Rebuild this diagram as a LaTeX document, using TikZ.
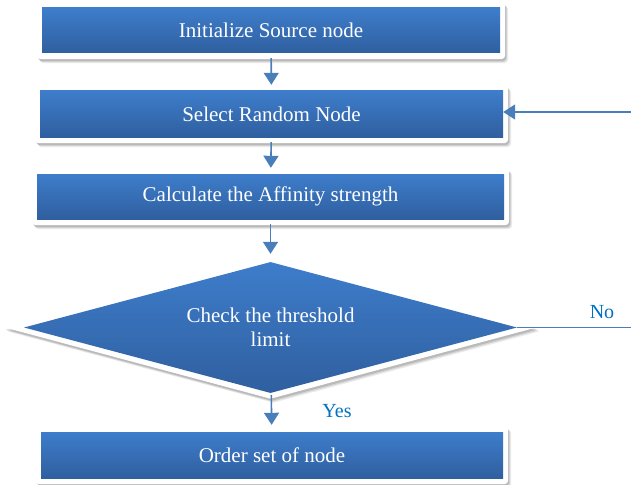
\documentclass[tikz,border=0pt]{standalone}
\usepackage{fontspec}
\setmainfont{Liberation Serif}
\usetikzlibrary{shapes.geometric,arrows.meta,shadows,backgrounds,calc}
\definecolor{btop}{HTML}{3E7DCB}
\definecolor{bbot}{HTML}{2F5F9F}
\definecolor{arr}{HTML}{4A7EBB}
\definecolor{lbl}{HTML}{0070C0}
\begin{document}
\begin{tikzpicture}[x=1pt,y=-1pt,
 procbox/.style={rectangle, top color=btop, bottom color=bbot, text=white, font=\fontsize{21}{25}\selectfont, inner sep=0pt, minimum height=46pt},
 decbox/.style={diamond, top color=btop, bottom color=bbot, text=white, font=\fontsize{21}{24}\selectfont, align=center, inner sep=0pt, aspect=3.76, minimum width=493pt, minimum height=131pt},
 flow/.style={draw=arr, line width=1.6pt, -{Triangle[width=15pt,length=12pt]}, shorten <=5pt, shorten >=6pt},
 frame/.style={fill=white, rounded corners=4pt,
   drop shadow={shadow xshift=3pt, shadow yshift=-4pt, opacity=0.08, fill=black},
   drop shadow={shadow xshift=2pt, shadow yshift=-3pt, opacity=0.1, fill=black},
   drop shadow={shadow xshift=1pt, shadow yshift=-2pt, opacity=0.12, fill=black}},
 lab/.style={text=lbl, font=\fontsize{20}{24}\selectfont}]
\useasboundingbox (0,0) rectangle (631,484);
\node[procbox, minimum width=458pt, minimum height=45pt] (b1) at (271,30.5) {Initialize Source node};
\node[procbox, minimum width=463pt] (b2) at (271.5,114) {Select Random Node};
\node[procbox, minimum width=467pt, minimum height=45pt] (b3) at (270.5,196.5) {Calculate the Affinity strength};
\node[decbox] (d) at (270.5,327.5) {Check the threshold\\limit};
\node[procbox, minimum width=462pt] (b5) at (272,455) {Order set of node};
\begin{scope}[on background layer]
\foreach \n in {b1,b2,b3,b5}
  \path[frame] ($(\n.north west)+(-5,-6)$) rectangle ($(\n.south east)+(5,6)$);
\path[frame, rounded corners=0pt] ($(d.north)+(0,-5.5)$) -- ($(d.east)+(19,0)$) -- ($(d.south)+(0,5.5)$) -- ($(d.west)+(-19,0)$) -- cycle;
\end{scope}
\draw[flow] (b1) -- (b2);
\draw[flow] (b2) -- (b3);
\draw[flow, shorten >=8pt] (b3) -- (d);
\draw[flow, shorten <=2pt, shorten >=7pt] (d) -- (b5);
\coordinate (fb) at (631,112);
\draw[flow, shorten <=0pt, shorten >=0pt] (fb) -- (fb -| b2.east);
\coordinate (nr) at (631,327);
\draw[draw=arr, line width=1.6pt] (d.east) -- (d.east -| nr);
\node[lab] (no) at (602,312) {No};
\node[lab] (yes) at (337,411) {Yes};
\end{tikzpicture}
\end{document}
